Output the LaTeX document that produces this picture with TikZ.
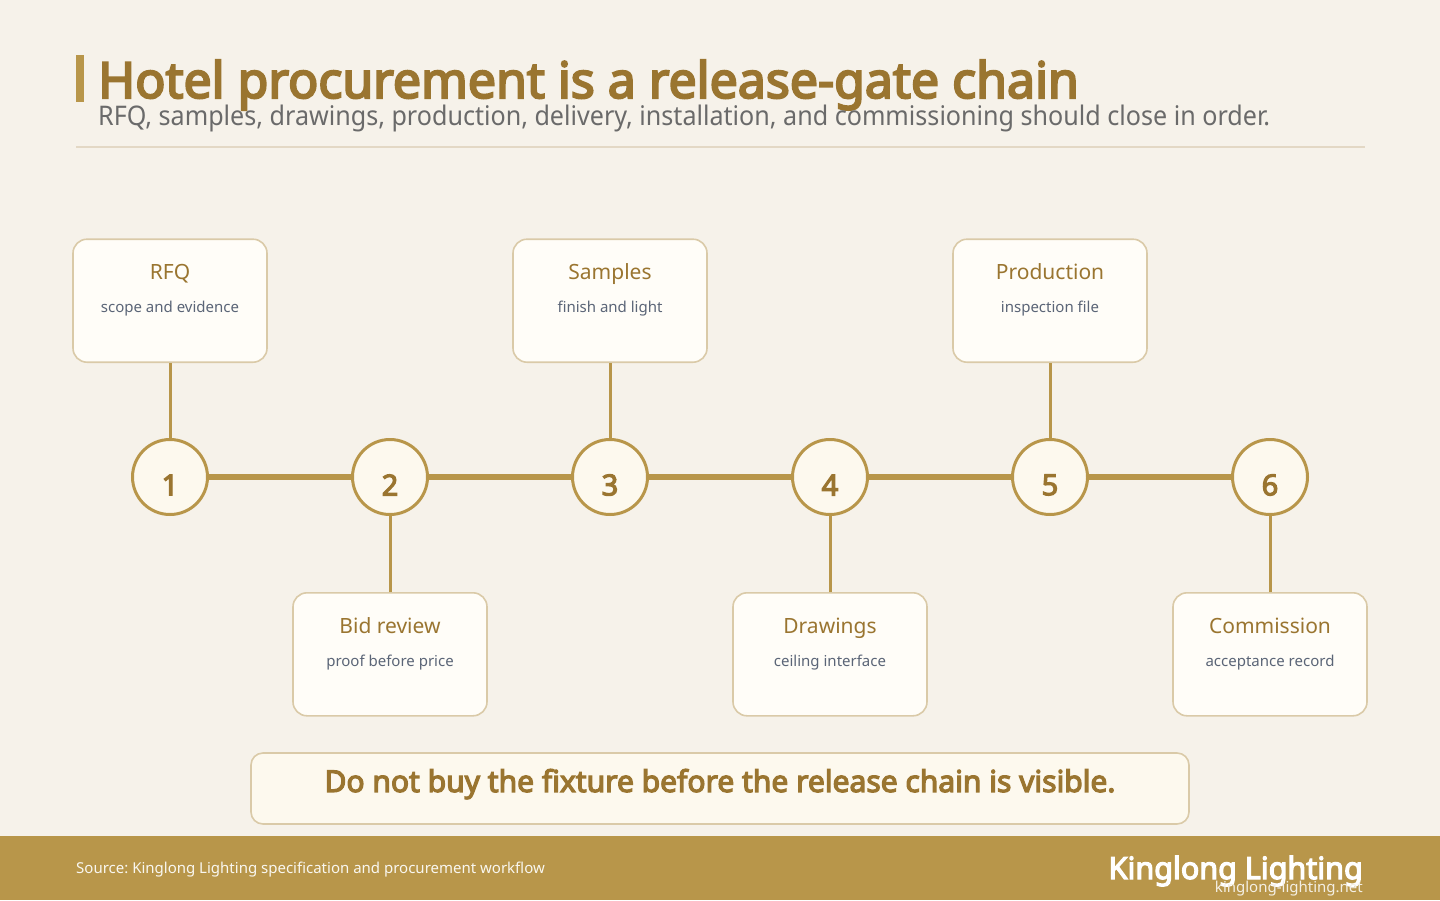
\documentclass[tikz,border=0pt]{standalone}
\usepackage{fontspec}
\setmainfont{Noto Sans}[AutoFakeBold=4]
\newfontfamily\narrowfont{Noto Sans}[FakeStretch=0.93]
\usetikzlibrary{positioning}
\definecolor{paper}{RGB}{246,242,234}
\definecolor{gold}{RGB}{184,150,74}
\definecolor{golddark}{RGB}{154,117,48}
\definecolor{cardline}{RGB}{218,202,168}
\definecolor{cardfill}{RGB}{255,253,248}
\definecolor{gatefill}{RGB}{253,249,238}
\definecolor{rulegray}{RGB}{227,216,197}
\definecolor{subgray}{RGB}{106,106,106}
\definecolor{slate}{RGB}{91,101,119}
\frenchspacing

\begin{document}
\begin{tikzpicture}[
  x=1pt, y=-1pt,
  gate/.style={
    circle,
    draw=gold,
    line width=3pt,
    fill=gatefill,
    minimum size=75pt,
    inner sep=0pt
  },
  num/.style={font=\fontsize{29}{30}\selectfont\bfseries,text=golddark,yshift=-8pt},
  card/.style={
    draw=cardline,
    fill=cardfill,
    line width=1.6pt,
    rounded corners=14pt,
    minimum width=194pt,
    minimum height=123pt
  },
  ctitle/.style={font=\fontsize{21}{24}\selectfont,text=golddark,anchor=base,yshift=-41pt},
  csub/.style={font=\fontsize{15}{18}\selectfont,text=slate,anchor=base,yshift=-74pt},
  chain/.style={draw=gold,line width=6pt},
  stem/.style={draw=gold,line width=3pt}
]
\useasboundingbox (0,0) rectangle (1440,900);
\fill[paper] (0,0) rectangle (1440,900);

% heading
\fill[gold] (76,55) rectangle (84,102);
\node[anchor=base west,inner sep=0pt,font=\fontsize{50}{56}\selectfont\bfseries,text=golddark]
  (title) at (98,98) {Hotel procurement is a release-gate chain};
\node[anchor=base west,inner sep=0pt,font=\fontsize{27}{30}\selectfont\narrowfont,text=subgray]
  (subtitle) at (98,125) {RFQ, samples, drawings, production, delivery, installation, and commissioning should close in order.};
\draw[rulegray,line width=2pt] (76,147) -- (1365,147);

% gates
\node[gate,label={[num]center:1}] (g1) at (170,477) {};
\node[gate,label={[num]center:2}] (g2) at (390,477) {};
\node[gate,label={[num]center:3}] (g3) at (610,477) {};
\node[gate,label={[num]center:4}] (g4) at (830,477) {};
\node[gate,label={[num]center:5}] (g5) at (1050,477) {};
\node[gate,label={[num]center:6}] (g6) at (1270,477) {};
\draw[chain] (g1) -- (g2);
\draw[chain] (g2) -- (g3);
\draw[chain] (g3) -- (g4);
\draw[chain] (g4) -- (g5);
\draw[chain] (g5) -- (g6);

% cards
\node[card,above=75pt of g1,label={[ctitle]north:RFQ},label={[csub]north:scope and evidence}] (c1) {};
\node[card,below=76pt of g2,label={[ctitle]north:Bid review},label={[csub]north:proof before price}] (c2) {};
\node[card,above=75pt of g3,label={[ctitle]north:Samples},label={[csub]north:finish and light}] (c3) {};
\node[card,below=76pt of g4,label={[ctitle]north:Drawings},label={[csub]north:ceiling interface}] (c4) {};
\node[card,above=75pt of g5,label={[ctitle]north:Production},label={[csub]north:inspection file}] (c5) {};
\node[card,below=76pt of g6,label={[ctitle]north:Commission},label={[csub]north:acceptance record}] (c6) {};
\draw[stem] (c1.south) -- (g1.north);
\draw[stem] (c2.north) -- (g2.south);
\draw[stem] (c3.south) -- (g3.north);
\draw[stem] (c4.north) -- (g4.south);
\draw[stem] (c5.south) -- (g5.north);
\draw[stem] (c6.north) -- (g6.south);

% takeaway
\node[card,fill=gatefill,rounded corners=12pt,minimum width=938pt,minimum height=71pt,
  font=\fontsize{30}{32}\selectfont\bfseries,text=golddark,text depth=16pt]
  (note) at (720,788.5) {Do not buy the fixture before the release chain is visible.};

% footer
\fill[gold] (0,836) rectangle (1440,900);
\node[anchor=base west,inner sep=0pt,font=\fontsize{15}{18}\selectfont,text=white!92!gold]
  (source) at (76,873) {Source: Kinglong Lighting specification and procurement workflow};
\node[anchor=base east,inner sep=0pt,font=\fontsize{30.5}{32}\selectfont\bfseries,text=white]
  (brand) at (1363,879) {Kinglong Lighting};
\node[anchor=base east,inner sep=0pt,font=\fontsize{15}{18}\selectfont,text=white!85!gold]
  (site) at (1363,892) {kinglong-lighting.net};
\end{tikzpicture}
\end{document}
